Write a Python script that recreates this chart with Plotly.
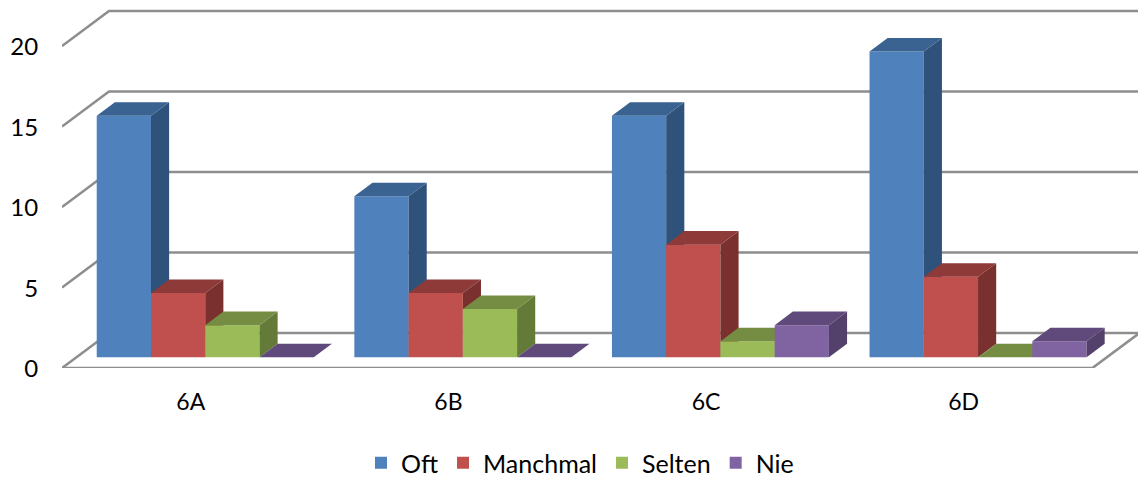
import plotly.graph_objects as go

CATEGORIES = ["6A", "6B", "6C", "6D"]
OFT = [15, 10, 15, 19]
MANCHMAL = [4, 4, 7, 5]
SELTEN = [2, 3, 1, 0]
NIE = [0, 0, 2, 1]
SERIES_NAMES = ["Oft", "Manchmal", "Selten", "Nie"]
Y_TICKS = [0, 5, 10, 15, 20]

FRONT = ["#4F81BD", "#C0504D", "#9BBB59", "#8064A2"]
TOP = ["#3A6391", "#8E3A38", "#758D43", "#604A7B"]
SIDE = ["#2F527B", "#7A302E", "#647A39", "#53406B"]
GRID = "#8E8E8E"

W, H = 1138, 482
ML, MB = 62, 114
PX_X, PX_Y = 257.6, 16.1            # pixels per category / per value unit
DEPTH_X, DEPTH_Y = 47 / PX_X, 35 / PX_Y   # full depth of the floor in data units
D0, D1 = 0.305, 0.691               # depth span of the bars
GAP, BW = 20.4 / PX_X, 54.25 / PX_X   # gap before the group, bar width

fig = go.Figure()

# walls and floor on the base axes
n = len(CATEGORIES)
wx, wy = [], []
for t in Y_TICKS:
    wx += [0, DEPTH_X, n + DEPTH_X, None]
    wy += [t, t + DEPTH_Y, t + DEPTH_Y, None]
wx += [0, n, n + DEPTH_X]
wy += [0, 0, DEPTH_Y]
fig.add_trace(go.Scatter(x=wx, y=wy, mode="lines", line=dict(color=GRID, width=2.6),
                         showlegend=False, hoverinfo="skip", cliponaxis=False))

# one overlaid axis pair per series so that later series paint over earlier ones
for s, vals in enumerate([OFT, MANCHMAL, SELTEN, NIE]):
    ax = str(s + 2)
    lefts = [c + GAP + s * BW + D0 * DEPTH_X for c in range(n)]
    base = D0 * DEPTH_Y
    fig.add_trace(go.Bar(x=[l + BW / 2 for l in lefts], y=vals, base=base, width=BW,
                         name=SERIES_NAMES[s], marker=dict(color=FRONT[s], line=dict(width=0)),
                         xaxis="x" + ax, yaxis="y" + ax, customdata=CATEGORIES,
                         hovertemplate="%{customdata}: %{y}<extra>" + SERIES_NAMES[s] + "</extra>"))
    dx, dy = (D1 - D0) * DEPTH_X, (D1 - D0) * DEPTH_Y
    tx, ty, sx, sy = [], [], [], []
    for l, v in zip(lefts, vals):
        top = base + v
        tx += [l, l + BW, l + BW + dx, l + dx, l, None]
        ty += [top, top, top + dy, top + dy, top, None]
        if v > 0:
            sx += [l + BW, l + BW + dx, l + BW + dx, l + BW, l + BW, None]
            sy += [top, top + dy, base + dy, base, top, None]
    for px, py, col in ((sx, sy, SIDE[s]), (tx, ty, TOP[s])):
        fig.add_trace(go.Scatter(x=px, y=py, mode="lines", fill="toself", fillcolor=col,
                                 line=dict(width=0, color=col), showlegend=False, hoverinfo="skip",
                                 xaxis="x" + ax, yaxis="y" + ax))

x_range = [0, (W - ML) / PX_X]
y_range = [0, (H - MB) / PX_Y]
FONT = "Lato, Carlito, Calibri, sans-serif"
layout = dict(
    width=W, height=H, autosize=False,
    margin=dict(l=ML, r=0, t=0, b=MB, autoexpand=False),
    paper_bgcolor="white", plot_bgcolor="white",
    barmode="overlay",
    font=dict(family=FONT, size=24, color="#000000"),
    xaxis=dict(range=x_range, tickvals=[c + 0.5 for c in range(n)], ticktext=CATEGORIES,
               showgrid=False, zeroline=False, showline=False, ticks="outside", ticklen=0,
               ticklabelstandoff=13, tickfont=dict(size=23)),
    yaxis=dict(range=y_range, tickvals=Y_TICKS, showgrid=False, zeroline=False, showline=False,
               ticks="outside", ticklen=0, ticklabelstandoff=18, ticklabelshift=1),
    legend=dict(orientation="h", x=(361 - ML) / (W - ML), xanchor="left",
                y=(H - MB - 463) / (H - MB), yanchor="middle", font=dict(size=25),
                itemwidth=30, bgcolor="rgba(0,0,0,0)"),
)
for s in range(4):
    ax = str(s + 2)
    layout["xaxis" + ax] = dict(overlaying="x", matches="x", visible=False)
    layout["yaxis" + ax] = dict(overlaying="y", matches="y", visible=False)
fig.update_layout(**layout)
fig.write_html("out.html", config=dict(displayModeBar=False),
               post_script="document.body.style.margin='0';document.documentElement.style.overflow='hidden';")
